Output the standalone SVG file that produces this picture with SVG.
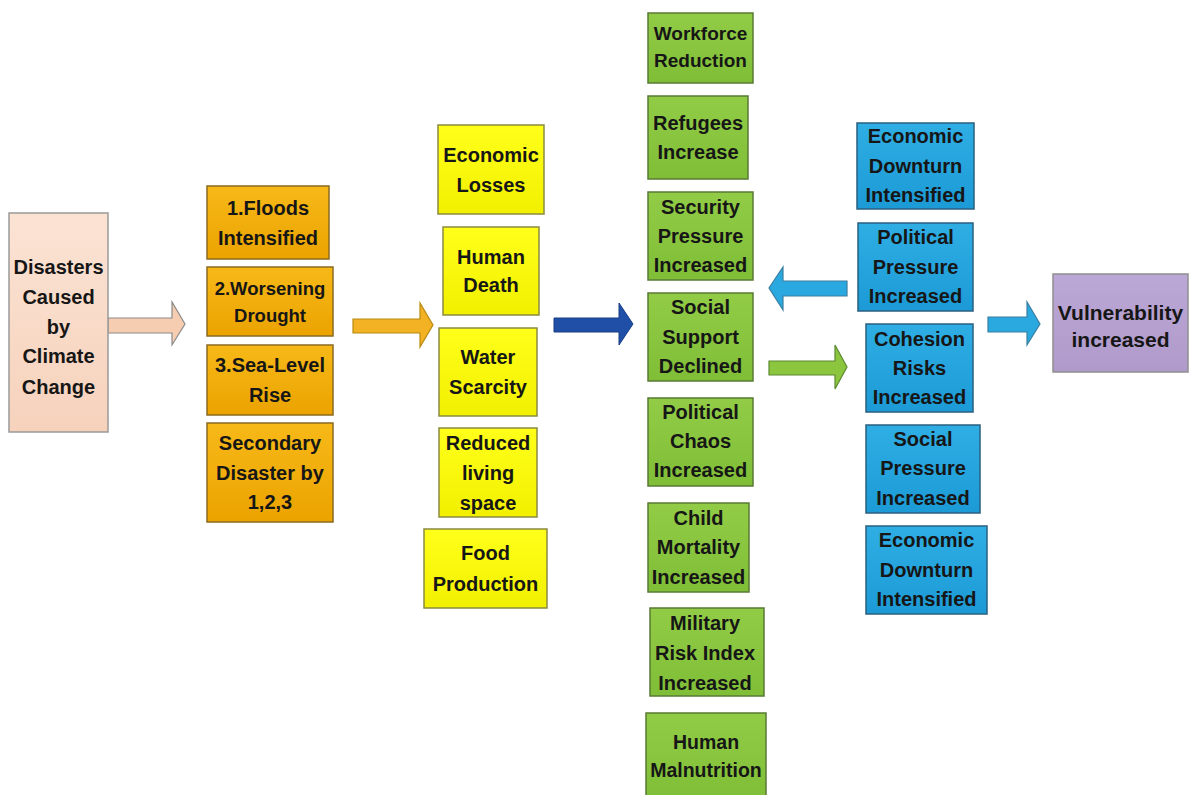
<svg xmlns="http://www.w3.org/2000/svg" width="1189" height="795" viewBox="0 0 1189 795">
<defs>
<linearGradient id="gPeach" x1="0" y1="0" x2="0" y2="1"><stop offset="0" stop-color="#FBE3D4"/><stop offset="1" stop-color="#F6D2BC"/></linearGradient>
<linearGradient id="gOrange" x1="0" y1="0" x2="0" y2="1"><stop offset="0" stop-color="#F7B918"/><stop offset="1" stop-color="#EBA300"/></linearGradient>
<linearGradient id="gYellow" x1="0" y1="0" x2="0" y2="1"><stop offset="0" stop-color="#FFFF1A"/><stop offset="1" stop-color="#F2F000"/></linearGradient>
<linearGradient id="gGreen" x1="0" y1="0" x2="0" y2="1"><stop offset="0" stop-color="#92CC46"/><stop offset="1" stop-color="#80BE38"/></linearGradient>
<linearGradient id="gBlue" x1="0" y1="0" x2="0" y2="1"><stop offset="0" stop-color="#2FAEE4"/><stop offset="1" stop-color="#1C9AD6"/></linearGradient>
<linearGradient id="gPurple" x1="0" y1="0" x2="0" y2="1"><stop offset="0" stop-color="#BCA8D6"/><stop offset="1" stop-color="#AF9ACB"/></linearGradient>
</defs>
<style>
.t{font-family:"Liberation Sans",Arial,sans-serif;font-weight:bold;font-size:20px;fill:#161616;text-anchor:middle}
.s{font-size:19px}
.peach{fill:url(#gPeach);stroke:#9a9a9a;stroke-width:1.5}
.orange{fill:url(#gOrange);stroke:#8a6a20;stroke-width:1.5}
.yellow{fill:url(#gYellow);stroke:#8a8a40;stroke-width:1.5}
.green{fill:url(#gGreen);stroke:#587a34;stroke-width:1.5}
.blue{fill:url(#gBlue);stroke:#2a5f80;stroke-width:1.5}
.purple{fill:url(#gPurple);stroke:#8f8f8f;stroke-width:1.5}
</style>
<rect width="1189" height="795" fill="#ffffff"/>

<g id="connectors">
<polygon points="108,318 172,318 172,302 185,324 172,345 172,333 108,333" fill="#F6CDB0" stroke="#8a8a8a" stroke-width="1.2"/>
<polygon points="353,319 420,319 420,303 433,325 420,347 420,333 353,333" fill="#F2B224" stroke="#b88a10" stroke-width="1.2"/>
<polygon points="554,318 619,318 619,303 633,324 619,345 619,332 554,332" fill="#1F4FA6" stroke="#183e86" stroke-width="1"/>
<polygon points="847,281 783,281 783,267 769,288 783,310 783,296 847,296" fill="#2AA8E0" stroke="#3a7fa0" stroke-width="1.2"/>
<polygon points="769,361 835,361 835,345 847,367 835,389 835,375 769,375" fill="#8CC63F" stroke="#5a8a30" stroke-width="1.2"/>
<polygon points="988,317 1027,317 1027,302 1040,324 1027,345 1027,332 988,332" fill="#2AA8E0" stroke="#3a7fa0" stroke-width="1.2"/>
</g>

<g id="disasters">
<rect class="peach" x="9" y="213" width="99" height="219"/>
<text class="t" x="58.5" y="274">Disasters</text>
<text class="t" x="58.5" y="304">Caused</text>
<text class="t" x="58.5" y="334">by</text>
<text class="t" x="58.5" y="363">Climate</text>
<text class="t" x="58.5" y="394">Change</text>
</g>

<g id="floods">
<rect class="orange" x="207" y="186" width="122" height="73"/>
<text class="t" x="268" y="215">1.Floods</text>
<text class="t" x="268" y="245">Intensified</text>
</g>
<g id="drought">
<rect class="orange" x="207" y="267" width="126" height="69"/>
<text class="t" x="270" y="295" style="font-size:18.5px">2.Worsening</text>
<text class="t" x="270" y="322" style="font-size:18.5px">Drought</text>
</g>
<g id="sealevel">
<rect class="orange" x="207" y="345" width="126" height="70"/>
<text class="t" x="270" y="372">3.Sea-Level</text>
<text class="t" x="270" y="402">Rise</text>
</g>
<g id="secondary">
<rect class="orange" x="207" y="423" width="126" height="99"/>
<text class="t" x="270" y="450">Secondary</text>
<text class="t" x="270" y="480">Disaster by</text>
<text class="t" x="270" y="509">1,2,3</text>
</g>

<g id="economic-losses">
<rect class="yellow" x="438" y="125" width="106" height="89"/>
<text class="t" x="491" y="162">Economic</text>
<text class="t" x="491" y="192">Losses</text>
</g>
<g id="human-death">
<rect class="yellow" x="443" y="227" width="96" height="88"/>
<text class="t" x="491" y="264">Human</text>
<text class="t" x="491" y="292">Death</text>
</g>
<g id="water-scarcity">
<rect class="yellow" x="439" y="328" width="98" height="88"/>
<text class="t" x="488" y="364">Water</text>
<text class="t" x="488" y="394">Scarcity</text>
</g>
<g id="living-space">
<rect class="yellow" x="439" y="428" width="98" height="89"/>
<text class="t" x="488" y="450">Reduced</text>
<text class="t" x="488" y="480">living</text>
<text class="t" x="488" y="510">space</text>
</g>
<g id="food-production">
<rect class="yellow" x="424" y="529" width="123" height="79"/>
<text class="t" x="485.5" y="560">Food</text>
<text class="t" x="485.5" y="591">Production</text>
</g>

<g id="workforce">
<rect class="green" x="648" y="13" width="105" height="70"/>
<text class="t s" x="700.5" y="40">Workforce</text>
<text class="t s" x="700.5" y="67">Reduction</text>
</g>
<g id="refugees">
<rect class="green" x="648" y="96" width="100" height="83"/>
<text class="t" x="698" y="130">Refugees</text>
<text class="t" x="698" y="159">Increase</text>
</g>
<g id="security">
<rect class="green" x="648" y="192" width="105" height="88"/>
<text class="t" x="700.5" y="214">Security</text>
<text class="t" x="700.5" y="243">Pressure</text>
<text class="t" x="700.5" y="272">Increased</text>
</g>
<g id="social-support">
<rect class="green" x="648" y="293" width="105" height="88"/>
<text class="t" x="700.5" y="314">Social</text>
<text class="t" x="700.5" y="344">Support</text>
<text class="t" x="700.5" y="373">Declined</text>
</g>
<g id="political-chaos">
<rect class="green" x="648" y="398" width="105" height="88"/>
<text class="t" x="700.5" y="419">Political</text>
<text class="t" x="700.5" y="448">Chaos</text>
<text class="t" x="700.5" y="477">Increased</text>
</g>
<g id="child-mortality">
<rect class="green" x="648" y="503" width="101" height="89"/>
<text class="t" x="698.5" y="525">Child</text>
<text class="t" x="698.5" y="554">Mortality</text>
<text class="t" x="698.5" y="584">Increased</text>
</g>
<g id="military-risk">
<rect class="green" x="650" y="608" width="114" height="88"/>
<text class="t" x="705" y="630">Military</text>
<text class="t" x="705" y="660">Risk Index</text>
<text class="t" x="705" y="690">Increased</text>
</g>
<g id="malnutrition">
<rect class="green" x="646" y="713" width="120" height="86"/>
<text class="t" x="706" y="749" style="font-size:19.5px">Human</text>
<text class="t" x="706" y="777" style="font-size:19.5px">Malnutrition</text>
</g>

<g id="economic-downturn-1">
<rect class="blue" x="857" y="123" width="117" height="86"/>
<text class="t" x="915.5" y="143">Economic</text>
<text class="t" x="915.5" y="173">Downturn</text>
<text class="t" x="915.5" y="202">Intensified</text>
</g>
<g id="political-pressure">
<rect class="blue" x="858" y="223" width="115" height="88"/>
<text class="t" x="915.5" y="244">Political</text>
<text class="t" x="915.5" y="274">Pressure</text>
<text class="t" x="915.5" y="303">Increased</text>
</g>
<g id="cohesion-risks">
<rect class="blue" x="866" y="324" width="107" height="88"/>
<text class="t" x="919.5" y="346">Cohesion</text>
<text class="t" x="919.5" y="375">Risks</text>
<text class="t" x="919.5" y="404">Increased</text>
</g>
<g id="social-pressure">
<rect class="blue" x="866" y="425" width="114" height="88"/>
<text class="t" x="923" y="446">Social</text>
<text class="t" x="923" y="475">Pressure</text>
<text class="t" x="923" y="505">Increased</text>
</g>
<g id="economic-downturn-2">
<rect class="blue" x="866" y="526" width="121" height="88"/>
<text class="t" x="926.5" y="547">Economic</text>
<text class="t" x="926.5" y="577">Downturn</text>
<text class="t" x="926.5" y="606">Intensified</text>
</g>

<g id="vulnerability">
<rect class="purple" x="1053" y="274" width="135" height="98"/>
<text class="t" x="1120.5" y="320" style="font-size:21px">Vulnerability</text>
<text class="t" x="1120.5" y="347" style="font-size:21px">increased</text>
</g>
</svg>
